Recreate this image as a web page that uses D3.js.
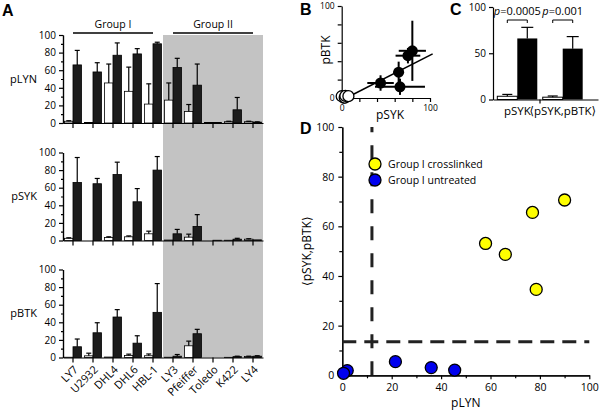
<!DOCTYPE html>
<html>
<head>
<meta charset="utf-8">
<script src="https://cdn.jsdelivr.net/npm/d3@7"></script>
<style>
  body { margin: 0; background: #fff; }
  svg { font-family: "Open Sans", "DejaVu Sans", sans-serif; }
  .axis path, .axis line { stroke: #000; stroke-width: 1.2; }
  .axis text { font-size: 10px; fill: #000; font-family: "Open Sans", "DejaVu Sans", sans-serif; }
  .letter { font-family: "Liberation Sans", Arial, sans-serif; font-weight: bold; font-size: 16px; }
</style>
</head>
<body>
<svg id="fig" width="600" height="411"></svg>
<script>
// cell lines, group I = first five
var cellLines = ["LY7", "U2932", "DHL4", "DHL6", "HBL-1", "LY3", "Pfeiffer", "Toledo", "K422", "LY4"];
var groupOneCount = 5;

// panel A values (% positive), mean and upper error
var lynUntreated = [2, 0.5, 45.5, 36, 21.5, 26, 13, 0.5, 1.5, 1.5];
var lynUntreatedErr = [0.6, 0, 21.5, 27.5, 23, 19.5, 8, 0, 0.5, 0.5];
var lynCrosslinked = [66, 58, 77, 78.5, 90, 63, 43, 0.5, 15, 1];
var lynCrosslinkedErr = [16.5, 10.5, 14, 6, 1.8, 10.5, 24, 0, 14, 0.3];

var sykUntreated = [2.5, 0, 3.4, 4.2, 7.6, 0.5, 3.8, 0, 0.3, 1.5];
var sykUntreatedErr = [0.6, 0, 0.8, 1, 3, 0, 3.4, 0, 0, 0.5];
var sykCrosslinked = [66, 64.5, 75, 44, 80, 7.6, 16, 0.3, 1.5, 0.7];
var sykCrosslinkedErr = [28.3, 6, 14, 15, 15.4, 5, 13.4, 0, 1, 0];

var btkUntreated = [0.3, 1.9, 0.5, 2.3, 2, 0.3, 13.3, 0, 0.2, 1.2];
var btkUntreatedErr = [0, 3, 0, 1.5, 2, 0, 5.3, 0, 0, 0.3];
var btkCrosslinked = [12.2, 28.1, 46, 16.3, 51.3, 1.5, 27, 0, 1, 1.5];
var btkCrosslinkedErr = [8.8, 11.4, 8.4, 8.4, 32.7, 1.9, 5, 0, 0.5, 0.5];

// panel B fit line endpoints (pSYK, pBTK)
var fitLine = [[5, 0], [103, 48]];

// panel C
var summaryLabels = ["pSYK", "\u27E8pSYK,pBTK\u27E9"];
var summaryUntreated = [3.5, 2.5];
var summaryUntreatedErr = [2, 1.3];
var summaryCrosslinked = [66, 55];
var summaryCrosslinkedErr = [12, 13];
var pValues = ["0.0005", "0.001"];

// panel D, <pSYK,pBTK> of group I lines
var comboUntreated = [1.9, 0.8, 2.1, 3.1, 5.5];
var comboCrosslinked = [48.7, 53.1, 65.6, 34.6, 70.6];
var lynThreshold = 12;
var comboThreshold = 13.5;

var svg = d3.select("#fig");
var barBlack = "#1c1c1c";

function errorBars(g, xs, ys, vals, errs, cap) {
  vals.forEach(function(v, i) {
    if (!errs[i]) return;
    g.append("line")
      .attr("x1", xs[i]).attr("x2", xs[i])
      .attr("y1", ys(v)).attr("y2", ys(v + errs[i]))
      .attr("stroke", "#000").attr("stroke-width", 1.2);
    g.append("line")
      .attr("x1", xs[i] - cap / 2).attr("x2", xs[i] + cap / 2)
      .attr("y1", ys(v + errs[i])).attr("y2", ys(v + errs[i]))
      .attr("stroke", "#000").attr("stroke-width", 1.2);
  });
}

/* ---------- Panel A ---------- */
var x = d3.scaleBand().domain(cellLines).range([63, 263]);
var xSub = d3.scaleBand().domain(["untreated", "crosslinked"])
    .range([0, x.bandwidth()]).paddingOuter(0.18);

var rowHeight = 88;
var rows = [
  { label: "pLYN", top: 35, u: lynUntreated, ue: lynUntreatedErr, c: lynCrosslinked, ce: lynCrosslinkedErr },
  { label: "pSYK", top: 152.5, u: sykUntreated, ue: sykUntreatedErr, c: sykCrosslinked, ce: sykCrosslinkedErr },
  { label: "pBTK", top: 269.5, u: btkUntreated, ue: btkUntreatedErr, c: btkCrosslinked, ce: btkCrosslinkedErr }
];

svg.append("text").attr("class", "letter").attr("x", 2).attr("y", 16).text("A");

// Group II shading
svg.append("rect")
    .attr("x", x(cellLines[groupOneCount]))
    .attr("y", rows[0].top)
    .attr("width", x.range()[1] - x(cellLines[groupOneCount]))
    .attr("height", rows[2].top + rowHeight - rows[0].top)
    .attr("fill", "#c3c3c3");

// group labels
var groups = [
  { name: "Group I", lines: cellLines.slice(0, groupOneCount) },
  { name: "Group II", lines: cellLines.slice(groupOneCount) }
];
groups.forEach(function(gr) {
  var x0 = x(gr.lines[0]) + x.bandwidth() / 2;
  var x1 = x(gr.lines[gr.lines.length - 1]) + x.bandwidth() / 2;
  svg.append("line").attr("x1", x0).attr("x2", x1).attr("y1", 33).attr("y2", 33)
      .attr("stroke", "#000").attr("stroke-width", 1.5);
  svg.append("text").attr("x", (x0 + x1) / 2).attr("y", 28)
      .attr("text-anchor", "middle").attr("font-size", "10.5px").text(gr.name);
});

rows.forEach(function(r, i) {
  var y = d3.scaleLinear().domain([0, 100]).range([r.top + rowHeight, r.top]);
  var g = svg.append("g");

  // Bars
  g.selectAll(".u").data(r.u).enter().append("rect")
      .attr("x", function(d, j) { return x(cellLines[j]) + xSub("untreated"); })
      .attr("y", function(d) { return y(d); })
      .attr("width", xSub.bandwidth())
      .attr("height", function(d) { return y(0) - y(d); })
      .attr("fill", "#fff").attr("stroke", "#000").attr("stroke-width", 0.8);
  g.selectAll(".c").data(r.c).enter().append("rect")
      .attr("x", function(d, j) { return x(cellLines[j]) + xSub("crosslinked"); })
      .attr("y", function(d) { return y(d); })
      .attr("width", xSub.bandwidth())
      .attr("height", function(d) { return y(0) - y(d); })
      .attr("fill", barBlack).attr("stroke", "#000").attr("stroke-width", 0.8);

  var ux = cellLines.map(function(c) { return x(c) + xSub("untreated") + xSub.bandwidth() / 2; });
  var cx = cellLines.map(function(c) { return x(c) + xSub("crosslinked") + xSub.bandwidth() / 2; });
  errorBars(g, ux, y, r.u, r.ue, 5);
  errorBars(g, cx, y, r.c, r.ce, 5);

  // Y Axis
  g.append("g").attr("class", "axis").attr("transform", "translate(63,0)")
      .call(d3.axisLeft(y).tickValues([0, 20, 40, 60, 80, 100]).tickSize(4).tickSizeOuter(0).tickPadding(3));
  g.append("g").attr("class", "axis").attr("transform", "translate(63,0)")
      .call(d3.axisLeft(y).tickValues([10, 30, 50, 70, 90]).tickSize(2).tickSizeOuter(0).tickFormat(""));

  // X Axis
  var xAxisCall = d3.axisBottom(x).tickSize(5).tickSizeOuter(0);
  if (i < 2) xAxisCall.tickFormat("");
  var xg = g.append("g").attr("class", "axis")
      .attr("transform", "translate(0," + (r.top + rowHeight) + ")")
      .call(xAxisCall);
  if (i === 2) {
    xg.selectAll("text")
        .attr("x", 0).attr("y", 0).attr("dy", "0.35em")
        .attr("transform", "translate(3,10) rotate(-45)")
        .style("text-anchor", "end")
        .style("font-size", "11px");
  }

  // Y Label
  g.append("text").attr("x", 37).attr("y", y(50)).attr("dy", "0.35em")
      .attr("text-anchor", "end").attr("font-size", "11px").text(r.label);
});

/* ---------- Panel B ---------- */
var bx = d3.scaleLinear().domain([0, 100]).range([341.7, 430]);
var by = d3.scaleLinear().domain([0, 100]).range([98, 6]);
var gB = svg.append("g");
svg.append("text").attr("class", "letter").attr("x", 300).attr("y", 15).text("B");

var onlyEnds = function(d) { return (d === 0 || d === 100) ? d : ""; };
gB.append("g").attr("class", "axis").attr("transform", "translate(" + bx(0) + ",0)")
    .call(d3.axisLeft(by).tickValues(d3.range(0, 101, 20)).tickSize(4).tickSizeOuter(0).tickPadding(3).tickFormat(onlyEnds))
    .selectAll("text").style("font-size", "8.5px");
gB.append("g").attr("class", "axis").attr("transform", "translate(0," + by(0) + ")")
    .call(d3.axisBottom(bx).tickValues(d3.range(0, 101, 20)).tickSize(4).tickSizeOuter(0).tickPadding(3).tickFormat(onlyEnds))
    .selectAll("text").style("font-size", "8.5px");

var bPts = d3.range(groupOneCount);
bPts.forEach(function(i) {
  gB.append("line")
      .attr("x1", bx(sykCrosslinked[i] - sykCrosslinkedErr[i])).attr("x2", bx(sykCrosslinked[i] + sykCrosslinkedErr[i]))
      .attr("y1", by(btkCrosslinked[i])).attr("y2", by(btkCrosslinked[i]))
      .attr("stroke", "#000").attr("stroke-width", 2);
  gB.append("line")
      .attr("x1", bx(sykCrosslinked[i])).attr("x2", bx(sykCrosslinked[i]))
      .attr("y1", by(btkCrosslinked[i] - btkCrosslinkedErr[i])).attr("y2", by(btkCrosslinked[i] + btkCrosslinkedErr[i]))
      .attr("stroke", "#000").attr("stroke-width", 2);
});
gB.append("path").datum(fitLine)
    .attr("d", d3.line().x(function(d) { return bx(d[0]); }).y(function(d) { return by(d[1]); }))
    .attr("stroke", "#000").attr("stroke-width", 1.5).attr("fill", "none");
gB.selectAll(".open").data(bPts).enter().append("circle")
    .attr("cx", function(i) { return bx(sykUntreated[i]); })
    .attr("cy", function(i) { return by(btkUntreated[i]); })
    .attr("r", 5.5).attr("fill", "#fff").attr("stroke", "#000").attr("stroke-width", 1.3);
gB.selectAll(".filled").data(bPts).enter().append("circle")
    .attr("cx", function(i) { return bx(sykCrosslinked[i]); })
    .attr("cy", function(i) { return by(btkCrosslinked[i]); })
    .attr("r", 5.5).attr("fill", "#000");

gB.append("text").attr("x", 390).attr("y", 119).attr("text-anchor", "middle")
    .attr("font-size", "12px").text("pSYK");
gB.append("text").attr("transform", "translate(330,50) rotate(-90)").attr("text-anchor", "middle")
    .attr("font-size", "12px").text("pBTK");

/* ---------- Panel C ---------- */
var cy = d3.scaleLinear().domain([0, 100]).range([99.5, 7]);
var cxScale = d3.scaleBand().domain(summaryLabels).range([493, 598])
    .paddingInner(0.12).paddingOuter(0.216).align(0.22);
var cSub = d3.scaleBand().domain(["untreated", "crosslinked"]).range([0, cxScale.bandwidth()]);
var gC = svg.append("g");
svg.append("text").attr("class", "letter").attr("x", 450).attr("y", 15).text("C");

gC.selectAll(".cu").data(summaryUntreated).enter().append("rect")
    .attr("x", function(d, i) { return cxScale(summaryLabels[i]) + cSub("untreated"); })
    .attr("y", function(d) { return cy(d); })
    .attr("width", cSub.bandwidth())
    .attr("height", function(d) { return cy(0) - cy(d); })
    .attr("fill", "#fff").attr("stroke", "#000").attr("stroke-width", 1);
gC.selectAll(".cc").data(summaryCrosslinked).enter().append("rect")
    .attr("x", function(d, i) { return cxScale(summaryLabels[i]) + cSub("crosslinked"); })
    .attr("y", function(d) { return cy(d); })
    .attr("width", cSub.bandwidth())
    .attr("height", function(d) { return cy(0) - cy(d); })
    .attr("fill", "#000");
var cux = summaryLabels.map(function(l) { return cxScale(l) + cSub("untreated") + cSub.bandwidth() / 2; });
var ccx = summaryLabels.map(function(l) { return cxScale(l) + cSub("crosslinked") + cSub.bandwidth() / 2; });
errorBars(gC, cux, cy, summaryUntreated, summaryUntreatedErr, 10);
errorBars(gC, ccx, cy, summaryCrosslinked, summaryCrosslinkedErr, 12);

gC.append("g").attr("class", "axis").attr("transform", "translate(493,0)")
    .call(d3.axisLeft(cy).tickValues([0, 50, 100]).tickSize(4).tickSizeOuter(0).tickPadding(3));
var cAxis = gC.append("g").attr("class", "axis").attr("transform", "translate(0," + cy(0) + ")")
    .call(d3.axisBottom(cxScale).tickSize(0).tickSizeOuter(0).tickPadding(7));
cAxis.selectAll("text").style("font-size", "11.5px");
var sep = cxScale(summaryLabels[1]) - cxScale.step() * cxScale.paddingInner() / 2;
cAxis.append("line").attr("x1", sep).attr("x2", sep).attr("y1", 0).attr("y2", 4);

// p-values
pValues.forEach(function(p, i) {
  var y0 = 20;
  gC.append("path")
      .attr("d", "M" + cux[i] + "," + (y0 + 3) + "V" + y0 + "H" + ccx[i] + "V" + (y0 + 3))
      .attr("stroke", "#000").attr("fill", "none").attr("stroke-width", 1);
  var t = gC.append("text").attr("x", (cux[i] + ccx[i]) / 2).attr("y", 15)
      .attr("text-anchor", "middle").attr("font-size", "11px");
  t.append("tspan").attr("font-style", "italic").text("p");
  t.append("tspan").text("=" + p);
});

/* ---------- Panel D ---------- */
var dx = d3.scaleLinear().domain([0, 100]).range([342.3, 589.3]);
var dy = d3.scaleLinear().domain([0, 100]).range([375.3, 127]);
var gD = svg.append("g");
svg.append("text").attr("class", "letter").attr("x", 300).attr("y", 134).text("D");

gD.append("g").attr("class", "axis").attr("transform", "translate(" + dx(0) + ",0)")
    .call(d3.axisLeft(dy).tickValues(d3.range(0, 101, 20)).tickSize(4).tickSizeOuter(0).tickPadding(4))
    .selectAll("text").style("font-size", "10.5px");
gD.append("g").attr("class", "axis").attr("transform", "translate(" + dx(0) + ",0)")
    .call(d3.axisLeft(dy).tickValues(d3.range(10, 100, 20)).tickSize(3).tickSizeOuter(0).tickFormat(""));
gD.append("g").attr("class", "axis").attr("transform", "translate(0," + dy(0) + ")")
    .call(d3.axisBottom(dx).tickValues(d3.range(0, 101, 20)).tickSize(4).tickSizeOuter(0).tickPadding(4))
    .selectAll("text").style("font-size", "10.5px");
gD.append("g").attr("class", "axis").attr("transform", "translate(0," + dy(0) + ")")
    .call(d3.axisBottom(dx).tickValues(d3.range(10, 100, 20)).tickSize(3).tickSizeOuter(0).tickFormat(""));

// thresholds
gD.append("line").attr("x1", dx(lynThreshold)).attr("x2", dx(lynThreshold))
    .attr("y1", dy(0)).attr("y2", dy(100))
    .attr("stroke", "#222").attr("stroke-width", 3).attr("stroke-dasharray", "14,13");
gD.append("line").attr("x1", dx(0)).attr("x2", dx(100))
    .attr("y1", dy(comboThreshold)).attr("y2", dy(comboThreshold))
    .attr("stroke", "#222").attr("stroke-width", 3).attr("stroke-dasharray", "14,8");

var dPts = d3.range(groupOneCount);
gD.selectAll(".yel").data(dPts).enter().append("circle")
    .attr("cx", function(i) { return dx(lynCrosslinked[i]); })
    .attr("cy", function(i) { return dy(comboCrosslinked[i]); })
    .attr("r", 6).attr("fill", "#ffff00").attr("stroke", "#000").attr("stroke-width", 1.3);
gD.selectAll(".blu").data(dPts).enter().append("circle")
    .attr("cx", function(i) { return dx(lynUntreated[i]); })
    .attr("cy", function(i) { return dy(comboUntreated[i]); })
    .attr("r", 6).attr("fill", "#0000ee").attr("stroke", "#000").attr("stroke-width", 1.3);

// legend
var legend = [{ label: "Group I crosslinked", color: "#ffff00" }, { label: "Group I untreated", color: "#0000ee" }];
legend.forEach(function(l, i) {
  gD.append("circle").attr("cx", 375).attr("cy", 164 + i * 16).attr("r", 6)
      .attr("fill", l.color).attr("stroke", "#000").attr("stroke-width", 1.3);
  gD.append("text").attr("x", 388).attr("y", 164 + i * 16).attr("dy", "0.35em")
      .attr("font-size", "10.5px").text(l.label);
});

gD.append("text").attr("x", dx(50)).attr("y", 407).attr("text-anchor", "middle")
    .attr("font-size", "12px").text("pLYN");
gD.append("text").attr("transform", "translate(311," + dy(50) + ") rotate(-90)")
    .attr("text-anchor", "middle").attr("font-size", "12px").text("\u27E8pSYK,pBTK\u27E9");
</script>
</body>
</html>
